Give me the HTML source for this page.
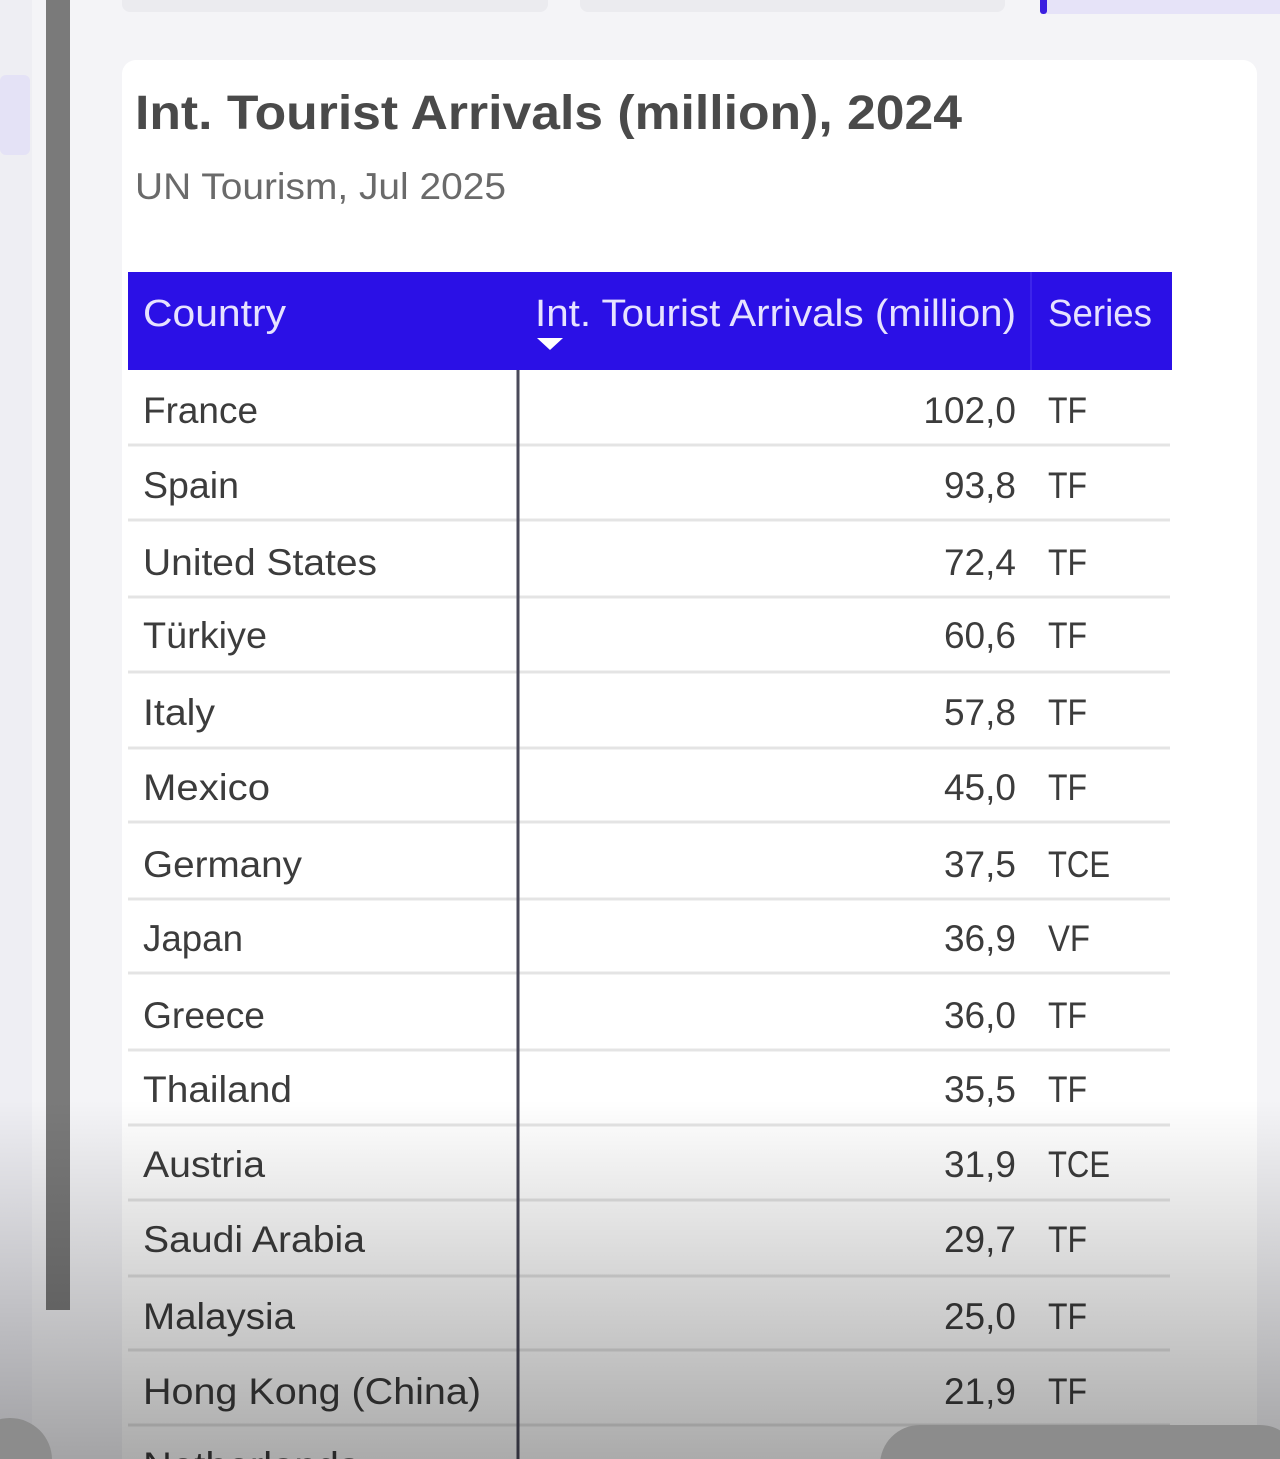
<!DOCTYPE html>
<html><head><meta charset="utf-8"><style>
html,body{margin:0;padding:0;width:1280px;height:1459px;overflow:hidden;background:#f4f4f7}
svg{display:block}
text{font-family:"Liberation Sans",sans-serif}
</style></head><body>
<svg width="1280" height="1459" viewBox="0 0 1280 1459" xmlns="http://www.w3.org/2000/svg">
<defs>
<linearGradient id="shade" x1="0" y1="0" x2="0" y2="1">
<stop offset="0" stop-color="#000" stop-opacity="0"/>
<stop offset="1" stop-color="#000" stop-opacity="0.33"/>
</linearGradient>
</defs>
<rect width="1280" height="1459" fill="#f4f4f7"/>
<rect x="0" y="0" width="32" height="1459" fill="#eeeef3"/>
<rect x="0" y="75" width="30" height="80" rx="6" fill="#e4e2f6"/>
<rect x="46" y="0" width="24" height="1310" fill="#7a7a7a"/>
<rect x="122" y="-10" width="426" height="22" rx="8" fill="#ebebef"/>
<rect x="580" y="-10" width="425" height="22" rx="8" fill="#ebebef"/>
<rect x="1040" y="-10" width="260" height="24" rx="8" fill="#e6e3f8"/>
<rect x="1040" y="-10" width="7" height="24" rx="3" fill="#3b1fe0"/>
<rect x="122" y="60" width="1135" height="1420" rx="14" fill="#ffffff"/>
<text x="135" y="129" font-size="48" font-weight="bold" fill="#4a4a4a" textLength="827" lengthAdjust="spacingAndGlyphs">Int. Tourist Arrivals (million), 2024</text>
<text x="135" y="199" font-size="37" fill="#6a6a6a" textLength="371" lengthAdjust="spacingAndGlyphs">UN Tourism, Jul 2025</text>
<rect x="128" y="272" width="1044" height="98" fill="#2b10e6"/>
<line x1="1031" y1="272" x2="1031" y2="370" stroke="#3d25ea" stroke-width="2"/>
<text x="143" y="326" font-size="38" fill="#e6e2ff" textLength="143" lengthAdjust="spacingAndGlyphs">Country</text>
<text x="535" y="326" font-size="38" fill="#e6e2ff" textLength="481" lengthAdjust="spacingAndGlyphs">Int. Tourist Arrivals (million)</text>
<text x="1048" y="326" font-size="38" fill="#e6e2ff" textLength="104" lengthAdjust="spacingAndGlyphs">Series</text>
<polygon points="537,338 563,338 550,350" fill="#ffffff"/>
<g stroke="#e4e4e4" stroke-width="3">
<line x1="128" y1="445" x2="1170" y2="445"/>
<line x1="128" y1="520" x2="1170" y2="520"/>
<line x1="128" y1="597" x2="1170" y2="597"/>
<line x1="128" y1="672" x2="1170" y2="672"/>
<line x1="128" y1="748" x2="1170" y2="748"/>
<line x1="128" y1="822" x2="1170" y2="822"/>
<line x1="128" y1="899" x2="1170" y2="899"/>
<line x1="128" y1="973" x2="1170" y2="973"/>
<line x1="128" y1="1050" x2="1170" y2="1050"/>
<line x1="128" y1="1125" x2="1170" y2="1125"/>
<line x1="128" y1="1200" x2="1170" y2="1200"/>
<line x1="128" y1="1276" x2="1170" y2="1276"/>
<line x1="128" y1="1350" x2="1170" y2="1350"/>
<line x1="128" y1="1425" x2="1170" y2="1425"/>
</g>
<line x1="518" y1="370" x2="518" y2="1459" stroke="#4a4a5a" stroke-width="3"/>
<g font-size="37" fill="#3c3c3c">
<text x="143" y="423" textLength="115" lengthAdjust="spacingAndGlyphs">France</text>
<text x="143" y="498" textLength="96" lengthAdjust="spacingAndGlyphs">Spain</text>
<text x="143" y="575" textLength="234" lengthAdjust="spacingAndGlyphs">United States</text>
<text x="143" y="648" textLength="124" lengthAdjust="spacingAndGlyphs">Türkiye</text>
<text x="143" y="725" textLength="72" lengthAdjust="spacingAndGlyphs">Italy</text>
<text x="143" y="800" textLength="127" lengthAdjust="spacingAndGlyphs">Mexico</text>
<text x="143" y="877" textLength="159" lengthAdjust="spacingAndGlyphs">Germany</text>
<text x="143" y="951" textLength="100" lengthAdjust="spacingAndGlyphs">Japan</text>
<text x="143" y="1028" textLength="122" lengthAdjust="spacingAndGlyphs">Greece</text>
<text x="143" y="1102" textLength="149" lengthAdjust="spacingAndGlyphs">Thailand</text>
<text x="143" y="1177" textLength="122" lengthAdjust="spacingAndGlyphs">Austria</text>
<text x="143" y="1252" textLength="222" lengthAdjust="spacingAndGlyphs">Saudi Arabia</text>
<text x="143" y="1329" textLength="152" lengthAdjust="spacingAndGlyphs">Malaysia</text>
<text x="143" y="1404" textLength="338" lengthAdjust="spacingAndGlyphs">Hong Kong (China)</text>
<text x="143" y="1478" textLength="216" lengthAdjust="spacingAndGlyphs">Netherlands</text>
</g>
<g font-size="37" fill="#3c3c3c" text-anchor="end">
<text x="1016" y="423">102,0</text>
<text x="1016" y="498">93,8</text>
<text x="1016" y="575">72,4</text>
<text x="1016" y="648">60,6</text>
<text x="1016" y="725">57,8</text>
<text x="1016" y="800">45,0</text>
<text x="1016" y="877">37,5</text>
<text x="1016" y="951">36,9</text>
<text x="1016" y="1028">36,0</text>
<text x="1016" y="1102">35,5</text>
<text x="1016" y="1177">31,9</text>
<text x="1016" y="1252">29,7</text>
<text x="1016" y="1329">25,0</text>
<text x="1016" y="1404">21,9</text>
</g>
<g font-size="37" fill="#3c3c3c">
<text x="1048" y="423" textLength="39" lengthAdjust="spacingAndGlyphs">TF</text>
<text x="1048" y="498" textLength="39" lengthAdjust="spacingAndGlyphs">TF</text>
<text x="1048" y="575" textLength="39" lengthAdjust="spacingAndGlyphs">TF</text>
<text x="1048" y="648" textLength="39" lengthAdjust="spacingAndGlyphs">TF</text>
<text x="1048" y="725" textLength="39" lengthAdjust="spacingAndGlyphs">TF</text>
<text x="1048" y="800" textLength="39" lengthAdjust="spacingAndGlyphs">TF</text>
<text x="1048" y="877" textLength="62" lengthAdjust="spacingAndGlyphs">TCE</text>
<text x="1048" y="951" textLength="42" lengthAdjust="spacingAndGlyphs">VF</text>
<text x="1048" y="1028" textLength="39" lengthAdjust="spacingAndGlyphs">TF</text>
<text x="1048" y="1102" textLength="39" lengthAdjust="spacingAndGlyphs">TF</text>
<text x="1048" y="1177" textLength="62" lengthAdjust="spacingAndGlyphs">TCE</text>
<text x="1048" y="1252" textLength="39" lengthAdjust="spacingAndGlyphs">TF</text>
<text x="1048" y="1329" textLength="39" lengthAdjust="spacingAndGlyphs">TF</text>
<text x="1048" y="1404" textLength="39" lengthAdjust="spacingAndGlyphs">TF</text>
</g>
<rect x="0" y="1100" width="1280" height="359" fill="url(#shade)"/>
<rect x="880" y="1425" width="420" height="80" rx="40" fill="#8c8c8c"/>
<circle cx="10" cy="1460" r="42" fill="#8c8c8c"/>
</svg>
</body></html>
